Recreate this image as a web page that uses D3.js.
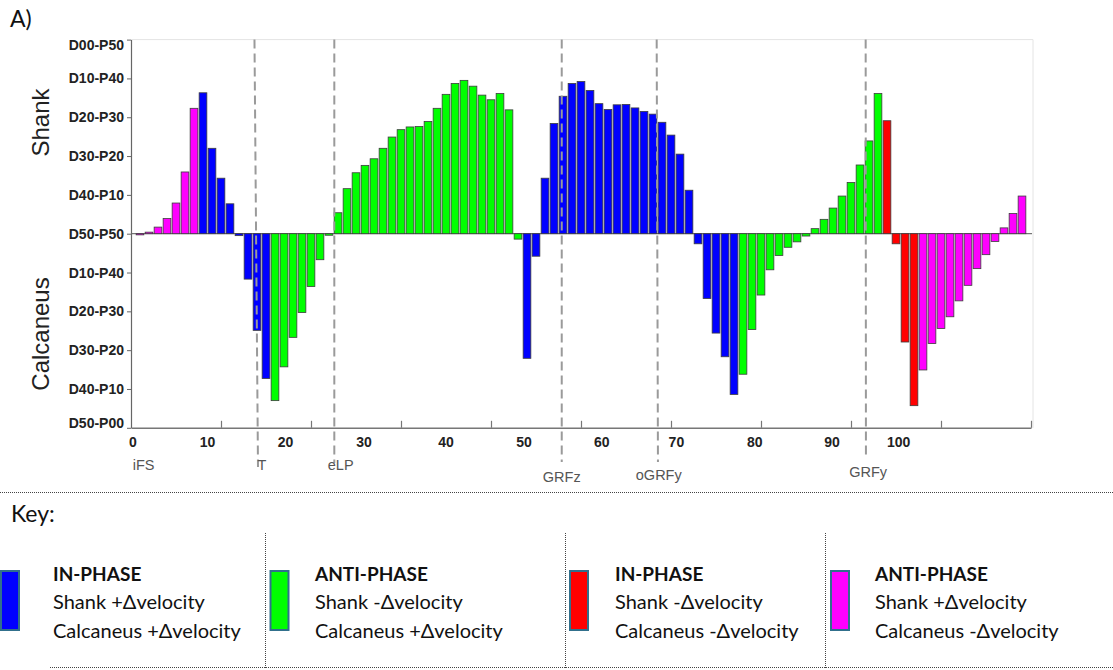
<!DOCTYPE html>
<html>
<head>
<meta charset="utf-8">
<script src="https://cdn.jsdelivr.net/npm/d3@7"></script>
<style>
  html, body { margin: 0; padding: 0; background: #fff; }
  svg { display: block; }
</style>
</head>
<body>
<svg id="chart" width="1113" height="670"></svg>
<script>
// Shank–calcaneus coupling, one bar per stance bin (1..99).
// Positive values: shank-dominant side of the coupling angle, negative: calcaneus-dominant side.
const values = [
  -0.3, 0.4, 1.7, 3.9, 7.9, 15.9, 32.3,
  36.3, 22.0, 14.3, 7.7, -0.5, -11.7, -24.9, -37.3,
  -43.0, -34.3, -26.7, -20.3, -13.6, -6.7, -0.4, 5.4, 11.6, 15.7, 17.6, 19.3, 22.0, 24.9,
  26.8, 27.5, 27.6, 28.9, 32.3, 35.9, 38.7, 39.5, 38.0, 35.7, 34.5, 36.1, 31.9, -1.4,
  -32.1, -5.8, 14.3, 28.4, 35.4, 38.7, 39.2, 36.9, 33.5, 32.0, 33.2, 33.3, 32.4, 31.5,
  30.8, 28.7, 25.4, 20.5, 11.2, -2.6, -16.7, -25.6, -31.7, -41.4,
  -36.2, -24.7, -15.8, -9.3, -5.6, -3.5, -2.1, -0.6, 1.3, 3.7, 6.6, 9.7, 13.2, 17.7, 23.9, 36.1,
  29.1, -2.6, -27.9, -44.3,
  -35.1, -28.3, -24.4, -21.4, -17.3, -13.3, -9.0, -5.4, -2.0, 1.5, 5.2, 9.7
];

// Coordination pattern of each bin: B = in-phase (+,+), G = anti-phase (-,+),
// R = in-phase (-,-), M = anti-phase (+,-)
const phase = (
  "MMMMMMM" + "BBBBBBBB" +
  "GGGGGGGGGGGGGGGGGGGGGGGGGGGG" +
  "BBBBBBBBBBBBBBBBBBBBBBBB" +
  "GGGGGGGGGGGGGGGG" + "RRRR" + "MMMMMMMMMMMM"
).split("");

const phaseCodes  = ["B", "G", "R", "M"];
const phaseTitles = ["IN-PHASE", "ANTI-PHASE", "IN-PHASE", "ANTI-PHASE"];
const phaseShank  = ["Shank +Δvelocity", "Shank -Δvelocity", "Shank -Δvelocity", "Shank +Δvelocity"];
const phaseCalc   = ["Calcaneus +Δvelocity", "Calcaneus +Δvelocity", "Calcaneus -Δvelocity", "Calcaneus -Δvelocity"];
const phaseColors = ["#0000ff", "#00ff00", "#ff0000", "#ff00ff"];

// Coupling-angle bins on the vertical axis
const yTickValues = [50, 40, 30, 20, 10, 0, -10, -20, -30, -40, -50];
const yTickLabels = ["D00-P50", "D10-P40", "D20-P30", "D30-P20", "D40-P10", "D50-P50",
                     "D10-P40", "D20-P30", "D30-P20", "D40-P10", "D50-P00"];

// Percent-of-stance labels and the bin each one sits under
const pctLabels = ["0", "10", "20", "30", "40", "50", "60", "70", "80", "90", "100"];
const pctAtBin  = [0.22, 8.5, 17.17, 25.9, 35.0, 43.67, 52.3, 60.6, 69.3, 77.9, 85.3];

// Gait events (bin at the top and bottom of each marker line, and where its name sits)
const eventNames     = ["iFS", "T", "eLP", "GRFz", "oGRFy", "GRFy"];
const eventTopBin    = [null, 13.72, 22.59, 47.86, 58.41, 81.63];
const eventBottomBin = [null, 14.11, 22.59, 47.86, 58.55, 81.66];
const eventLabelBin  = [1.4, 14.56, 23.3, 47.86, 58.64, 81.9];

// ---------------------------------------------------------------------------
const svg = d3.select("#chart");
const plot = { left: 131, right: 1031, top: 39.6, bottom: 427.8 };

const x = d3.scaleLinear().domain([0, 100]).range([plot.left, plot.right]);
const y = d3.scaleLinear().domain([-50, 50]).range([plot.bottom, plot.top]);
const colorOf = d3.scaleOrdinal().domain(phaseCodes).range(phaseColors);
const barW = 7.7;

const axisFont = "'Liberation Sans', Arial, Helvetica, sans-serif";
const textFont = "Lato, 'Open Sans', 'Liberation Sans', sans-serif";

// panel letter
svg.append("text")
  .attr("x", 10).attr("y", 27)
  .attr("font-family", textFont).attr("font-size", 23).attr("fill", "#111")
  .text("A)");

// faint frame on the top and right of the plot
svg.append("path")
  .attr("d", `M${plot.left},${plot.top}H${plot.right + 2}V${plot.bottom}`)
  .attr("fill", "none").attr("stroke", "#e4e4e4").attr("stroke-width", 1);

// zero line
svg.append("line")
  .attr("x1", plot.left).attr("x2", plot.right + 1)
  .attr("y1", y(0)).attr("y2", y(0))
  .attr("stroke", "#555").attr("stroke-width", 1);

// bars
svg.append("g").attr("class", "bars")
  .selectAll("rect")
  .data(values)
  .join("rect")
  .attr("x", (d, i) => x(i + 1) - barW / 2)
  .attr("y", d => y(Math.max(0, d)))
  .attr("width", barW)
  .attr("height", d => Math.abs(y(d) - y(0)))
  .attr("fill", (d, i) => colorOf(phase[i]))
  .attr("stroke", "#3c3c3c")
  .attr("stroke-width", 0.8);

// left axis with coupling-angle bins
const yAxis = svg.append("g")
  .attr("transform", `translate(${plot.left},0)`)
  .call(d3.axisLeft(y)
    .tickValues(yTickValues)
    .tickFormat((d, i) => yTickLabels[i])
    .tickSize(4)
    .tickSizeOuter(0)
    .tickPadding(3));
yAxis.select(".domain").attr("stroke", "#666").attr("stroke-width", 1.2);
yAxis.selectAll(".tick line").attr("stroke", "#666");
yAxis.selectAll(".tick text")
  .attr("font-family", axisFont).attr("font-size", 14).attr("font-weight", "bold")
  .attr("fill", "#222")
  .attr("dy", d => d === 50 ? "0.7em" : d === -50 ? "0.0em" : "0.32em");

// bottom axis: tick marks every ten bins, pointing inward
const xAxis = svg.append("g")
  .attr("transform", `translate(0,${plot.bottom})`)
  .call(d3.axisBottom(x)
    .tickValues(d3.range(10, 101, 10))
    .tickFormat("")
    .tickSize(-7)
    .tickSizeOuter(0));
xAxis.select(".domain").attr("stroke", "#777").attr("stroke-width", 1.5);
xAxis.selectAll(".tick line").attr("stroke", "#777").attr("stroke-width", 1.2);

// percent-of-stance labels
svg.append("g").selectAll("text")
  .data(pctLabels)
  .join("text")
  .attr("x", (d, i) => x(pctAtBin[i]))
  .attr("y", 447)
  .attr("text-anchor", "middle")
  .attr("font-family", axisFont).attr("font-size", 14).attr("font-weight", "bold")
  .attr("fill", "#222")
  .text(d => d);

// gait event markers
const eventLineEnd = [null, 467, 463, 462, 462, 457];
const eventLabelBaseline = [470, 470, 470, 481.5, 480, 477];
svg.append("g").selectAll("line")
  .data(eventNames.map((n, i) => i).filter(i => eventTopBin[i] !== null))
  .join("line")
  .attr("x1", i => x(eventTopBin[i]))
  .attr("x2", i => x(eventBottomBin[i]))
  .attr("y1", plot.top)
  .attr("y2", i => eventLineEnd[i])
  .attr("stroke", "#9a9a9a")
  .attr("stroke-width", 2)
  .attr("stroke-dasharray", "9,5");

svg.append("g").selectAll("text")
  .data(eventNames)
  .join("text")
  .attr("x", (d, i) => x(eventLabelBin[i]))
  .attr("y", (d, i) => eventLabelBaseline[i])
  .attr("text-anchor", "middle")
  .attr("font-family", axisFont).attr("font-size", 14.5)
  .attr("fill", "#555")
  .text(d => d);

// side titles
svg.append("text")
  .attr("transform", `translate(49,122.5) rotate(-90)`)
  .attr("text-anchor", "middle")
  .attr("font-family", axisFont).attr("font-size", 24).attr("fill", "#222")
  .text("Shank");
svg.append("text")
  .attr("transform", `translate(49,334) rotate(-90)`)
  .attr("text-anchor", "middle")
  .attr("font-family", axisFont).attr("font-size", 24).attr("fill", "#222")
  .text("Calcaneus");

// ---------------------------------------------------------------------------
// key
const dotted = { stroke: "#444", "stroke-width": 1, "stroke-dasharray": "1,1" };
function dottedLine(x1, y1, x2, y2) {
  const l = svg.append("line").attr("x1", x1).attr("y1", y1).attr("x2", x2).attr("y2", y2);
  Object.entries(dotted).forEach(([k, v]) => l.attr(k, v));
}
dottedLine(0, 492.5, 1113, 492.5);
dottedLine(50, 667.5, 1113, 667.5);

svg.append("text")
  .attr("x", 11).attr("y", 522)
  .attr("font-family", textFont).attr("font-size", 23).attr("fill", "#111")
  .text("Key:");

const keySwatchX = [0, 269.5, 569, 830];
const keyTextX   = [53, 315, 615, 875];
const keySepX    = [265.5, 565.5, 825.5];
keySepX.forEach(sx => dottedLine(sx, 533, sx, 668));

const key = svg.append("g").selectAll("g")
  .data(phaseCodes)
  .join("g");

key.append("rect")
  .attr("x", (d, i) => keySwatchX[i] + 1)
  .attr("y", 571)
  .attr("width", 18)
  .attr("height", 59)
  .attr("fill", d => colorOf(d))
  .attr("stroke", "#31708c")
  .attr("stroke-width", 2);

key.append("text")
  .attr("x", (d, i) => keyTextX[i]).attr("y", 580.5)
  .attr("font-family", textFont).attr("font-size", 19).attr("font-weight", "bold")
  .attr("fill", "#111")
  .text((d, i) => phaseTitles[i]);
key.append("text")
  .attr("x", (d, i) => keyTextX[i]).attr("y", 609)
  .attr("font-family", textFont).attr("font-size", 20)
  .attr("fill", "#111")
  .text((d, i) => phaseShank[i]);
key.append("text")
  .attr("x", (d, i) => keyTextX[i]).attr("y", 638)
  .attr("font-family", textFont).attr("font-size", 20)
  .attr("fill", "#111")
  .text((d, i) => phaseCalc[i]);
</script>
</body>
</html>
